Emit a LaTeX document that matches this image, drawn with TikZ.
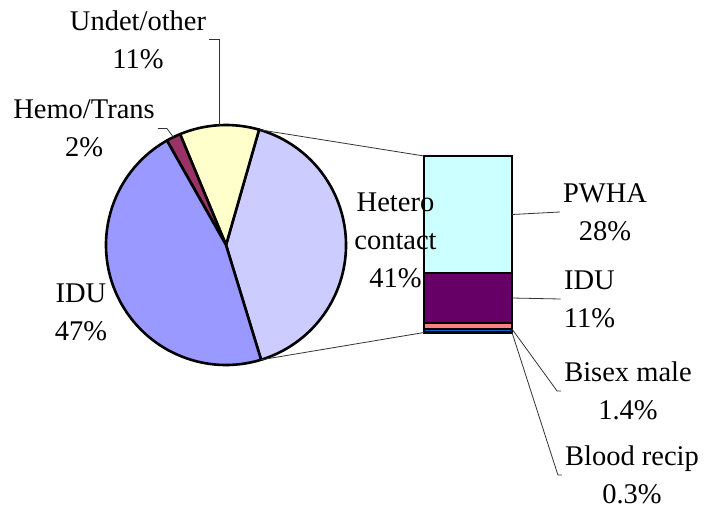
\documentclass[tikz,border=0pt]{standalone}
\usepackage{fontspec}
\setmainfont{Liberation Serif}
\usetikzlibrary{positioning}
\definecolor{hetero}{HTML}{CCCCFF}
\definecolor{idu}{HTML}{9999FF}
\definecolor{hemo}{HTML}{993366}
\definecolor{undet}{HTML}{FFFFCC}
\definecolor{pwha}{HTML}{CCFFFF}
\definecolor{idubar}{HTML}{660066}
\definecolor{bisex}{HTML}{FF8080}
\definecolor{blood}{HTML}{0066CC}
\begin{document}
\begin{tikzpicture}[x=1pt,y=1pt,
  slice/.style={draw=black,line width=2.6pt,line join=round},
  seg/.style={draw=black,line width=2.4pt,minimum width=88pt,inner sep=0pt,outer sep=0pt,anchor=north},
  lbl/.style={align=center,inner xsep=3pt,inner ysep=0pt,font=\fontsize{28.5}{38}\selectfont},
  lead/.style={draw=black!80,line width=0.8pt}]
  \useasboundingbox (0,0) rectangle (705,-512);
  \coordinate (c) at (226,-245);
  % pie
  \draw[slice,fill=hetero] (c) -- ++(74:120) arc[start angle=74,end angle=-73,radius=120] -- cycle;
  \draw[slice,fill=undet] (c) -- ++(74:120) arc[start angle=74,end angle=112.5,radius=120] -- cycle;
  \draw[slice,fill=hemo] (c) -- ++(112.5:120) arc[start angle=112.5,end angle=119.5,radius=120] -- cycle;
  \draw[slice,fill=idu] (c) -- ++(119.5:120) arc[start angle=119.5,end angle=287,radius=120] -- cycle;
  \coordinate (pietop) at ([shift={(74:120)}]c);
  \coordinate (piebot) at ([shift={(-73:120)}]c);
  \coordinate (undetpt) at ([shift={(93:120)}]c);
  \coordinate (hemopt) at ([shift={(116:120)}]c);

  % bar
  \node[seg,fill=pwha,minimum height=117pt] (pwhaseg) at (468,-156) {};
  \node[seg,fill=idubar,minimum height=50pt,below=0pt of pwhaseg] (iduseg) {};
  \node[seg,fill=bisex,minimum height=6pt,below=0pt of iduseg] (bisexseg) {};
  \node[seg,fill=blood,minimum height=3.5pt,below=0pt of bisexseg] (bloodseg) {};
  \draw[lead] (pietop) -- (pwhaseg.north west);
  \draw[lead] (piebot) -- (bloodseg.south west);

  % labels
  \node[lbl] (undetlbl) at (138,-39.5) {Undet/other\\11\%};
  \node[lbl] (hemolbl) at (84,-128.5) {Hemo/Trans\\2\%};
  \node[lbl] (idulbl) at (81,-312.5) {IDU\\47\%};
  \node[lbl] (heterolbl) at (395.5,-240.5) {Hetero\\contact\\41\%};
  \node[lbl] (pwhalbl) at (605,-212) {PWHA\\28\%};
  \node[lbl] (idubarlbl) at (589.5,-299) {IDU\\11\%};
  \node[lbl] (bisexlbl) at (628,-391) {Bisex male\\1.4\%};
  \node[lbl] (bloodlbl) at (632,-475) {Blood recip\\0.3\%};

  \draw[lead] (undetlbl.east) -| (undetpt);
  \draw[lead] (hemolbl.east) -- ++(9,0) -- (hemopt);
  \draw[lead] (pwhaseg.east) -- (pwhalbl.west);
  \draw[lead] (iduseg.east) -- (idubarlbl.west);
  \draw[lead] (bisexseg.south east) -- ([xshift=-4pt]bisexlbl.west) -- (bisexlbl.west);
  \draw[lead] (bloodseg.south east) -- ([xshift=-4pt]bloodlbl.west) -- (bloodlbl.west);
\end{tikzpicture}
\end{document}
